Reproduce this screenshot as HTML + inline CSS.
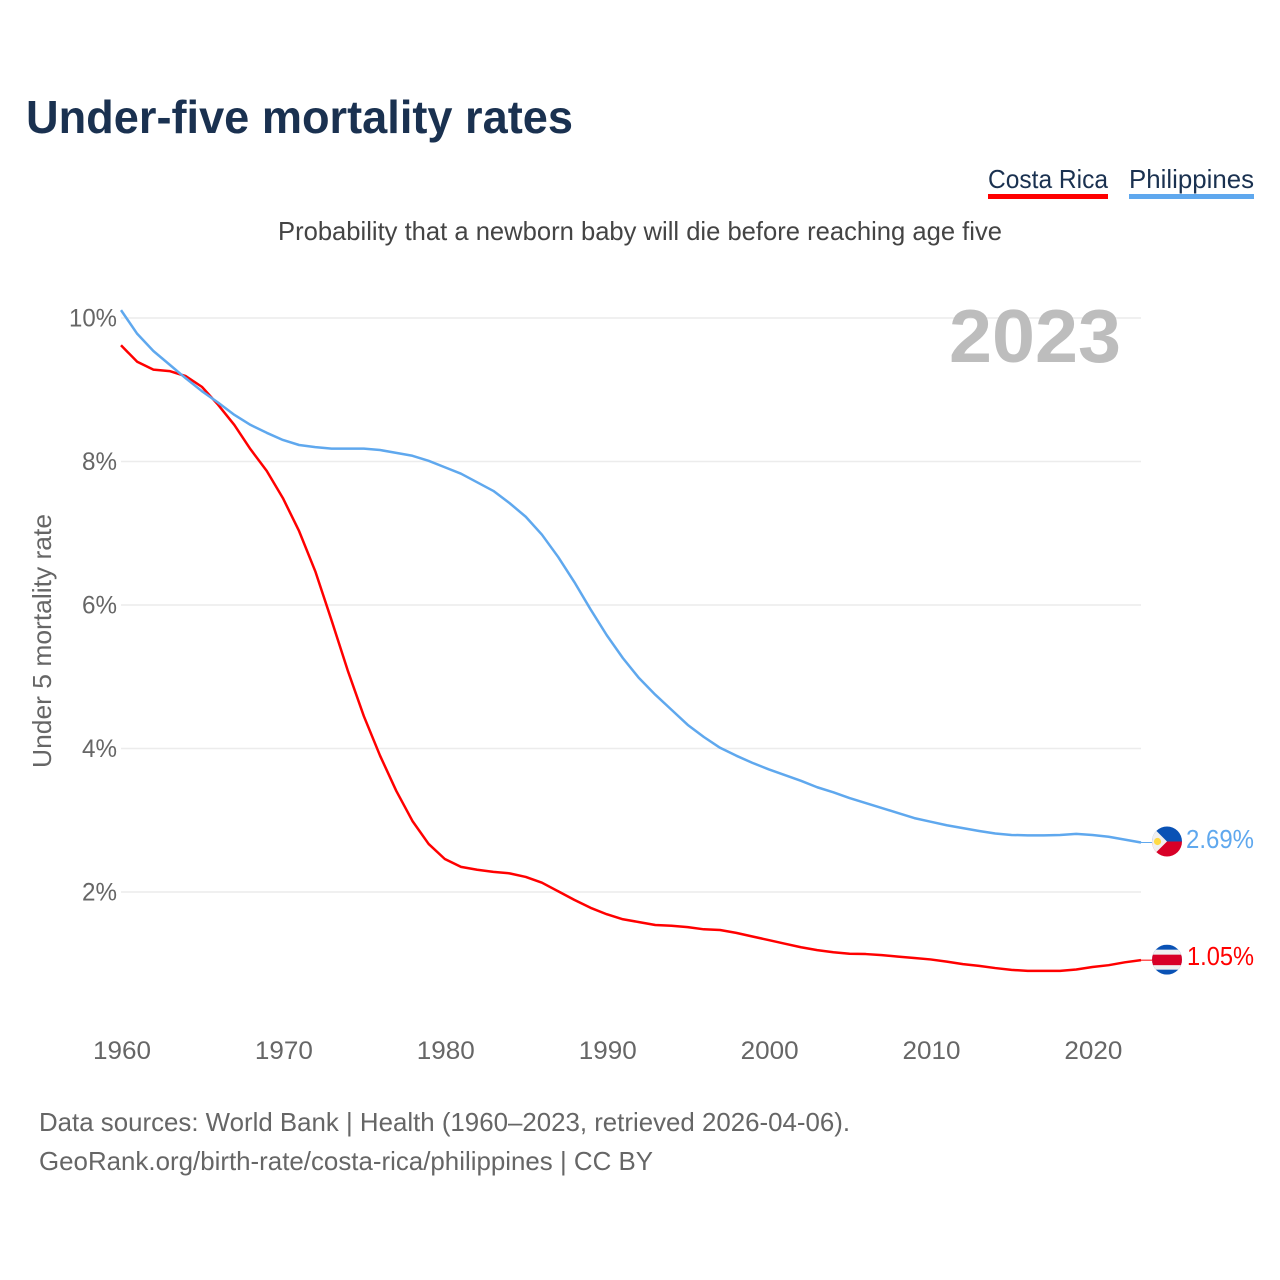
<!DOCTYPE html>
<html lang="en">
<head>
<meta charset="utf-8">
<title>Under-five mortality rates</title>
<style>
html,body{margin:0;padding:0;background:#fff;width:1280px;height:1280px;overflow:hidden}
svg{display:block}
text{font-family:"Liberation Sans",sans-serif}
</style>
</head>
<body>
<svg id="chart" xmlns="http://www.w3.org/2000/svg" width="1280" height="1280" viewBox="0 0 1280 1280">
  <defs>
    <clipPath id="flag-clip"><circle cx="0" cy="0" r="15"/></clipPath>
  </defs>
  <rect x="0" y="0" width="1280" height="1280" fill="#fff"/>
  <text x="26" y="133" font-size="46" font-weight="700" fill="#1a3150" textLength="547" lengthAdjust="spacingAndGlyphs">Under-five mortality rates</text>
  <text x="278" y="240" font-size="26" fill="#444" textLength="724" lengthAdjust="spacingAndGlyphs">Probability that a newborn baby will die before reaching age five</text>

  <g>
    <text x="988" y="188" font-size="26" fill="#1a3150" textLength="120" lengthAdjust="spacingAndGlyphs">Costa Rica</text>
    <rect x="988" y="194" width="120" height="5" fill="#ff0000"/>
  </g>
  <g>
    <text x="1129" y="188" font-size="26" fill="#1a3150" textLength="125" lengthAdjust="spacingAndGlyphs">Philippines</text>
    <rect x="1129" y="194" width="125" height="5" fill="#5fa8ee"/>
  </g>

  <g id="grid"></g>
  <g id="y-ticks"></g>
  <g id="x-ticks"></g>

  <text x="949" y="362" font-size="75" font-weight="700" fill="#bdbdbd" textLength="172" lengthAdjust="spacingAndGlyphs">2023</text>
  <text transform="translate(51,641) rotate(-90)" text-anchor="middle" font-size="26" fill="#666" textLength="254" lengthAdjust="spacingAndGlyphs">Under 5 mortality rate</text>

  <g id="series"></g>

  <g id="flag-ph">
    <g clip-path="url(#flag-clip)">
      <rect x="-15" y="-15" width="30" height="15" fill="#0a52b5"/>
      <rect x="-15" y="0" width="30" height="15" fill="#d80027"/>
      <polygon points="-15,-15 -15,15 0,0 -15,-15" fill="#f0f0f0"/>
      <circle cx="-9.5" cy="0" r="3.6" fill="#ffda44"/>
    </g>
  </g>
  <g id="flag-cr">
    <g clip-path="url(#flag-clip)">
      <rect x="-15" y="-15" width="30" height="30" fill="#0a52b5"/>
      <rect x="-15" y="-10" width="30" height="20" fill="#f0f0f0"/>
      <rect x="-15" y="-5" width="30" height="10.5" fill="#d80027"/>
    </g>
  </g>

  <text id="value-ph" x="1186" y="849" font-size="26" fill="#5fa8ee" textLength="68" lengthAdjust="spacingAndGlyphs"></text>
  <text id="value-cr" x="1187" y="966" font-size="26" fill="#ff0000" textLength="67" lengthAdjust="spacingAndGlyphs"></text>

  <text x="39" y="1131" font-size="26" fill="#666" textLength="811" lengthAdjust="spacingAndGlyphs">Data sources: World Bank | Health (1960–2023, retrieved 2026-04-06).</text>
  <text x="39" y="1170" font-size="26" fill="#666" textLength="614" lengthAdjust="spacingAndGlyphs">GeoRank.org/birth-rate/costa-rica/philippines | CC BY</text>
</svg>
<script>
const startYear = 1960;
const costaRica = [9.62,9.39,9.28,9.26,9.19,9.04,8.79,8.51,8.17,7.87,7.49,7.03,6.47,5.79,5.09,4.45,3.90,3.41,2.99,2.67,2.46,2.35,2.31,2.28,2.26,2.21,2.13,2.01,1.89,1.78,1.69,1.62,1.58,1.54,1.53,1.51,1.48,1.47,1.43,1.38,1.33,1.28,1.23,1.19,1.16,1.14,1.135,1.12,1.10,1.08,1.06,1.03,0.995,0.97,0.94,0.915,0.90,0.90,0.90,0.92,0.955,0.98,1.02,1.05];
const philippines = [10.11,9.78,9.54,9.35,9.16,8.98,8.82,8.65,8.51,8.40,8.30,8.23,8.20,8.18,8.18,8.18,8.16,8.12,8.08,8.01,7.92,7.83,7.71,7.59,7.42,7.23,6.98,6.67,6.32,5.94,5.58,5.26,4.98,4.75,4.54,4.33,4.16,4.01,3.90,3.80,3.71,3.63,3.55,3.46,3.39,3.31,3.24,3.17,3.10,3.03,2.98,2.93,2.89,2.85,2.815,2.795,2.79,2.79,2.795,2.81,2.795,2.77,2.73,2.69];
const yTicks = [2,4,6,8,10];
const xTicks = [1960,1970,1980,1990,2000,2010,2020];

const NS = 'http://www.w3.org/2000/svg';
function xScale(year){ return 121 + (year - 1960) * (1020 / 63); }
function yScale(v){ return 1035.5 - v * 71.75; }
function make(tag, attrs, parent){
  const el = document.createElementNS(NS, tag);
  for (const k in attrs) el.setAttribute(k, attrs[k]);
  parent.appendChild(el);
  return el;
}

const grid = document.getElementById('grid');
const yGroup = document.getElementById('y-ticks');
yTicks.forEach(function(t){
  const line = make('line', {x1:121, x2:1141, y1:yScale(t), y2:yScale(t), stroke:'#ececec', 'stroke-width':1.5}, grid);
  
  
  const label = make('text', {x:117, y:yScale(t) + 8.5, 'text-anchor':'end', 'font-size':25, fill:'#666'}, yGroup);
  
  
  label.textContent = t + '%';
  label.setAttribute('textLength', t === 10 ? 48 : 35);
  label.setAttribute('lengthAdjust', 'spacingAndGlyphs');
});

const xGroup = document.getElementById('x-ticks');
xTicks.forEach(function(t){
  const label = make('text', {x:xScale(t) + 1, y:1059, 'text-anchor':'middle', 'font-size':25, fill:'#666'}, xGroup);
  
  
  label.textContent = t;
  label.setAttribute('textLength', 58);
  label.setAttribute('lengthAdjust', 'spacingAndGlyphs');
});

function pathFor(values){
  return values.map(function(v, i){
    return (i ? 'L' : 'M') + xScale(startYear + i).toFixed(2) + ' ' + yScale(v).toFixed(2);
  }).join(' ');
}

const seriesGroup = document.getElementById('series');

const crLine = make('path', {d:pathFor(costaRica), fill:'none', stroke:'#ff0000', 'stroke-width':2.5, 'stroke-linejoin':'round'}, seriesGroup);



const phLine = make('path', {d:pathFor(philippines), fill:'none', stroke:'#5fa8ee', 'stroke-width':2.5, 'stroke-linejoin':'round'}, seriesGroup);



const crEnd = costaRica[costaRica.length - 1];
const phEnd = philippines[philippines.length - 1];

const crLead = make('line', {x1:xScale(2023), x2:1153, y1:yScale(crEnd), y2:yScale(crEnd), stroke:'#ff0000', 'stroke-width':1}, seriesGroup);



const phLead = make('line', {x1:xScale(2023), x2:1153, y1:yScale(phEnd), y2:yScale(phEnd), stroke:'#5fa8ee', 'stroke-width':1}, seriesGroup);



document.getElementById('flag-ph').setAttribute('transform', 'translate(1167,' + (yScale(phEnd) - 1) + ')');
document.getElementById('flag-cr').setAttribute('transform', 'translate(1167,' + (yScale(crEnd) - 0.5) + ')');

const valuePh = document.getElementById('value-ph');
valuePh.textContent = phEnd.toFixed(2) + '%';
valuePh.setAttribute('y', yScale(phEnd) + 5.5);
const valueCr = document.getElementById('value-cr');
valueCr.textContent = crEnd.toFixed(2) + '%';
valueCr.setAttribute('y', yScale(crEnd) + 5);
</script>
</body>
</html>
